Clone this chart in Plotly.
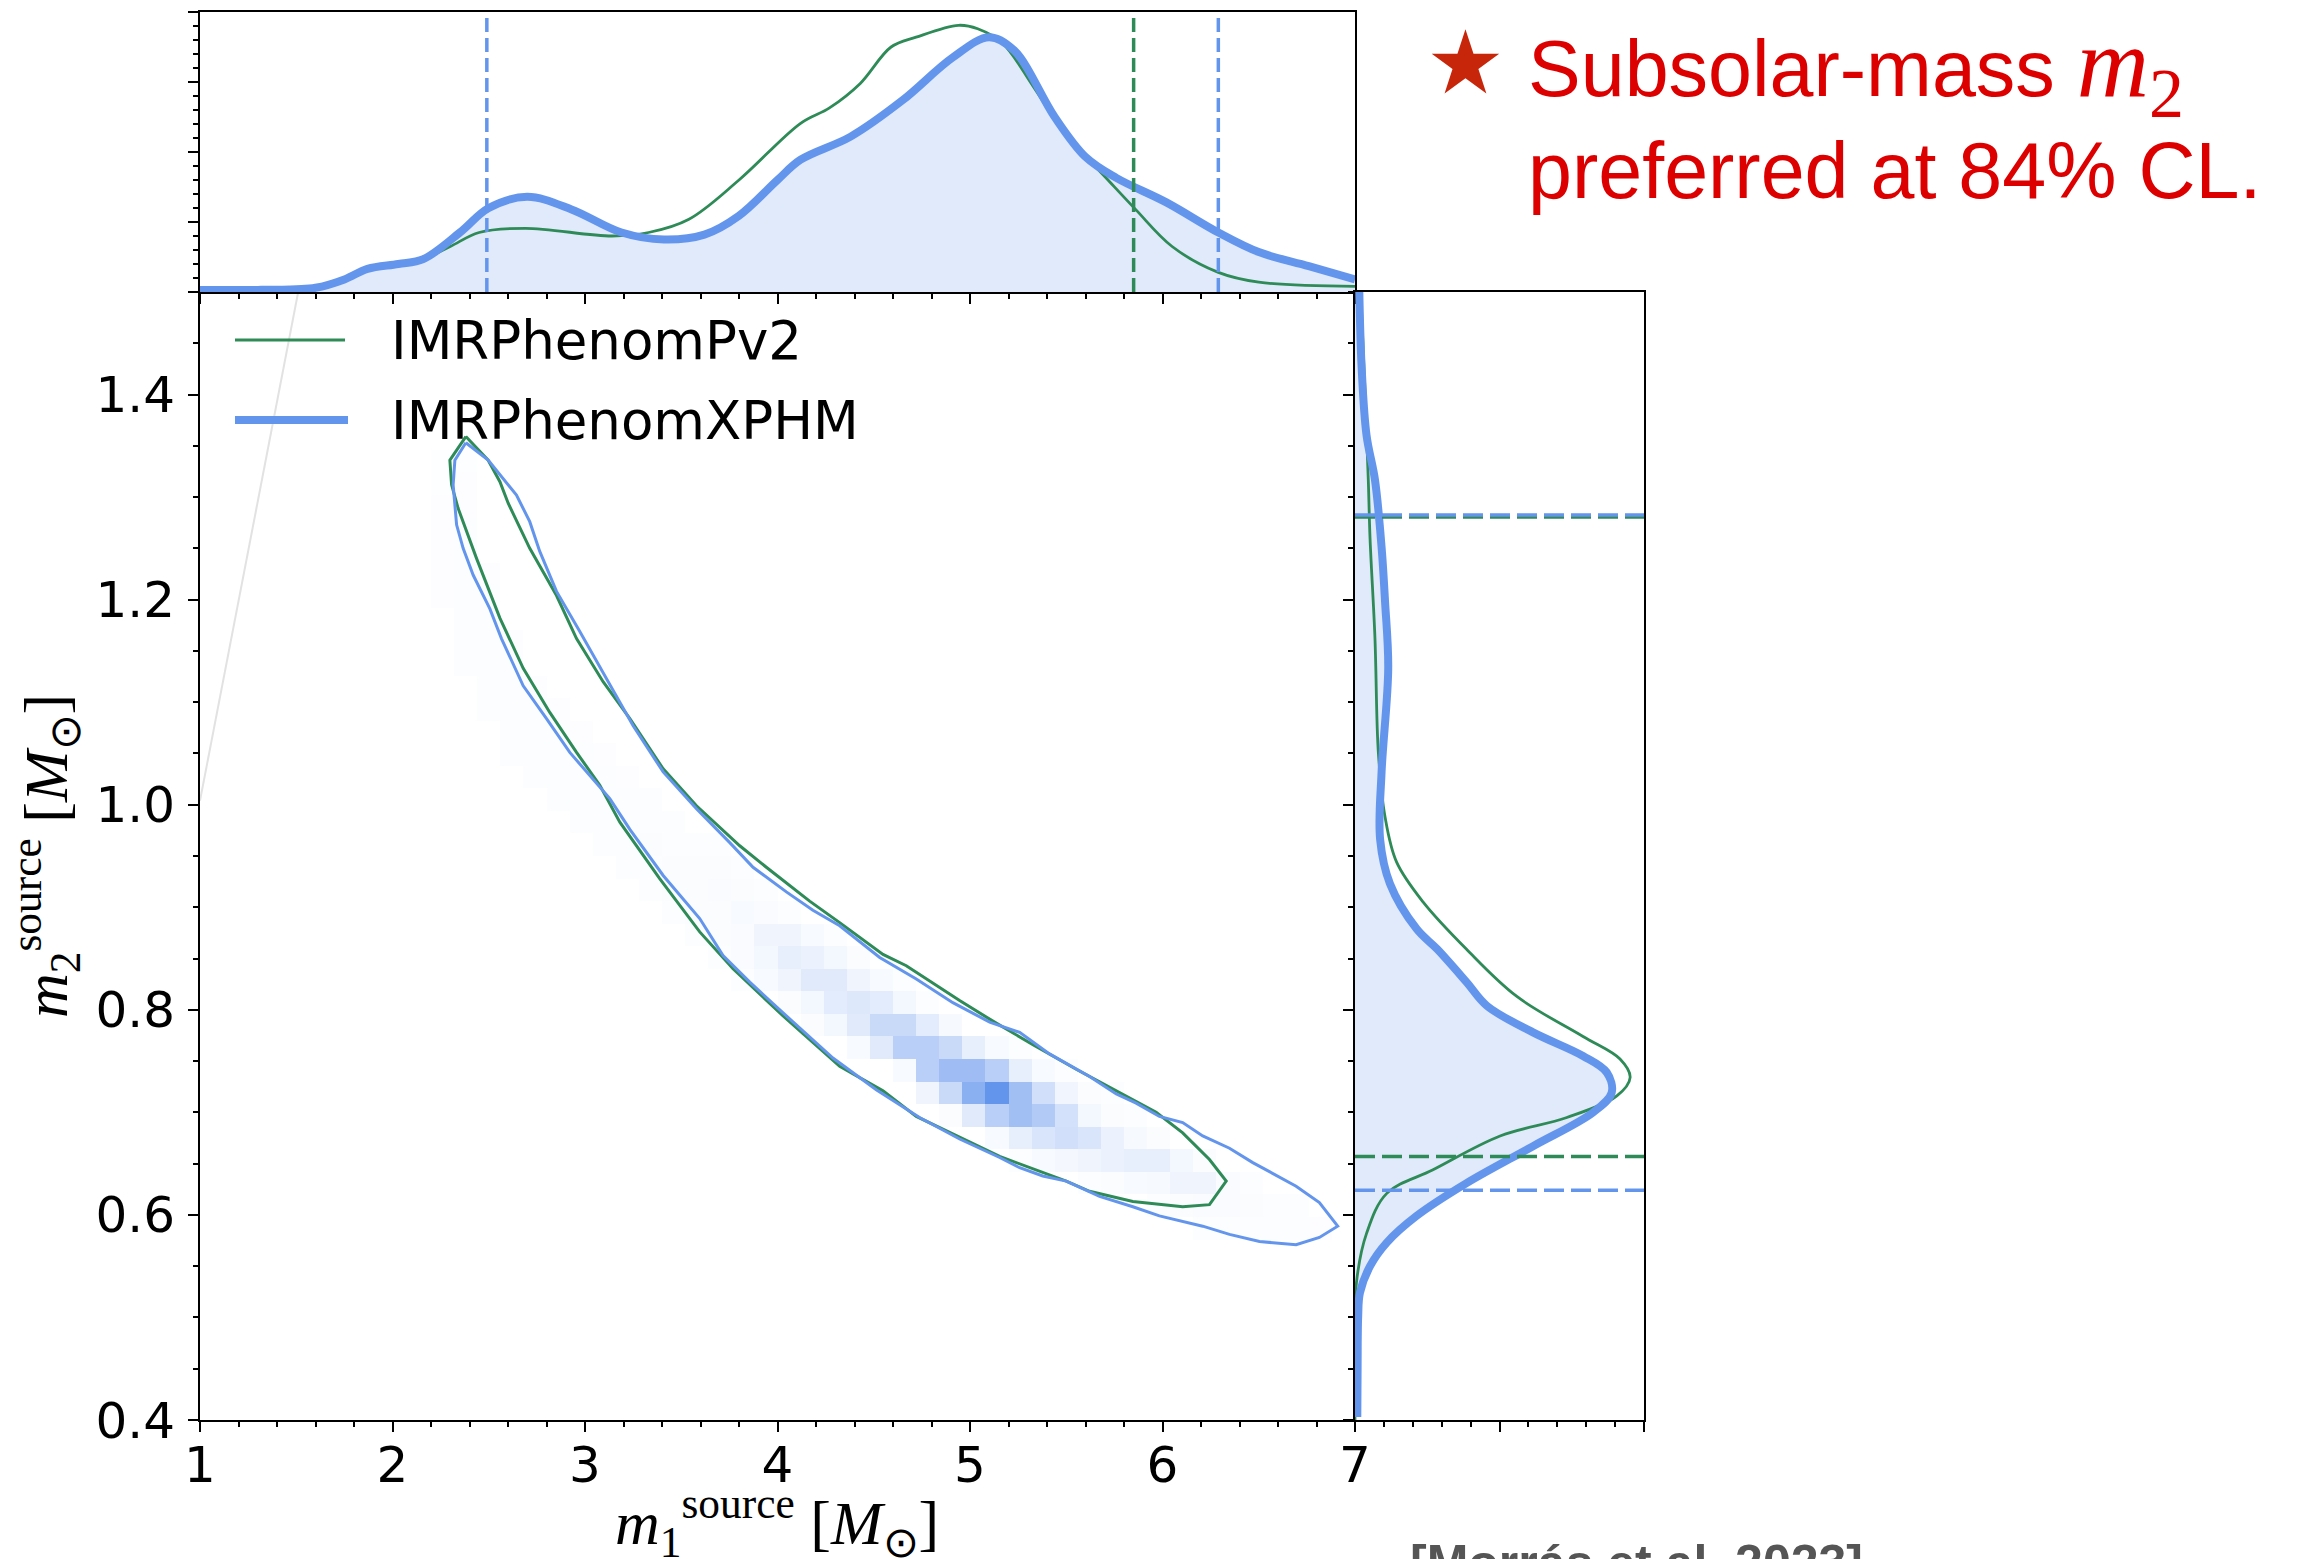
import plotly.graph_objects as go

W, H = 2300, 1559
def px(x): return x / W
def py(y): return 1 - y / H

GREEN = "#2E8B57"
BLUE = "#6495ED"
FILL = "rgba(100,149,237,0.2)"

# ---------------- data ----------------
# top marginal: m1 source-frame posterior density (arbitrary units, axis 0..4)
m1_blue_x = [1.0, 1.3, 1.5, 1.6, 1.75, 1.87, 2.03, 2.16, 2.35, 2.50, 2.70, 2.93, 3.19, 3.41,
             3.62, 3.80, 4.00, 4.12, 4.38, 4.65, 4.91, 5.10, 5.23, 5.44, 5.60, 5.76, 6.02,
             6.29, 6.50, 6.76, 7.0]
m1_blue_y = [0.03, 0.03, 0.04, 0.06, 0.18, 0.33, 0.40, 0.47, 0.85, 1.20, 1.36, 1.18, 0.85, 0.75,
             0.82, 1.09, 1.60, 1.89, 2.22, 2.74, 3.35, 3.64, 3.45, 2.50, 1.93, 1.63, 1.28,
             0.85, 0.57, 0.37, 0.18]
m1_green_x = [1.0, 1.5, 1.6, 1.75, 1.87, 2.03, 2.16, 2.30, 2.45, 2.69, 3.14, 3.33, 3.54, 3.80,
              4.12, 4.27, 4.43, 4.59, 4.72, 4.94, 5.04, 5.17, 5.33, 5.49, 5.70, 5.86, 6.05,
              6.29, 6.50, 7.0]
m1_green_y = [0.03, 0.04, 0.06, 0.20, 0.35, 0.42, 0.47, 0.65, 0.85, 0.91, 0.80, 0.85, 1.04, 1.60,
              2.41, 2.63, 2.98, 3.50, 3.64, 3.81, 3.76, 3.55, 2.93, 2.27, 1.65, 1.18, 0.65,
              0.28, 0.14, 0.08]
m1_q_blue = [2.49, 6.29]
m1_q_green = [5.85]

# right marginal: m2 source-frame posterior density (arbitrary units, axis 0..10)
m2_blue_m2 = [0.403, 0.45, 0.501, 0.524, 0.550, 0.573, 0.599, 0.631, 0.667, 0.700, 0.719, 0.739,
              0.755, 0.778, 0.804, 0.827, 0.859, 0.879, 0.923, 0.966, 1.032, 1.133, 1.198,
              1.251, 1.317, 1.36, 1.426, 1.50]
m2_blue_d = [0.08, 0.09, 0.11, 0.17, 0.52, 1.10, 2.13, 3.86, 6.16, 8.24, 8.88, 8.71,
             7.89, 6.16, 4.56, 3.86, 2.85, 2.13, 1.21, 0.87, 0.92, 1.15, 1.04,
             0.92, 0.69, 0.40, 0.23, 0.15]
m2_green_m2 = [0.40, 0.50, 0.534, 0.582, 0.621, 0.644, 0.677, 0.695, 0.716, 0.734, 0.752, 0.774,
               0.813, 0.859, 0.905, 0.944, 0.988, 1.05, 1.163, 1.26, 1.317, 1.40, 1.50]
m2_green_d = [0.0, 0.02, 0.05, 0.40, 1.10, 2.70, 5.02, 7.33, 9.06, 9.52, 9.17, 7.89,
              5.60, 3.86, 2.36, 1.44, 1.04, 0.81, 0.69, 0.52, 0.46, 0.35, 0.20]
m2_q_blue = [1.2825, 0.624]
m2_q_green = [1.2805, 0.657]

# 90% credible contours (m1, m2)
cont_blue_m1 = [2.381, 2.497, 2.644, 2.713, 2.765, 2.852, 2.973, 3.112, 3.250, 3.406, 3.579, 3.752,
                3.873, 4.046, 4.184, 4.323, 4.531, 4.721, 4.911, 5.102, 5.258, 5.413, 5.621,
                5.760, 5.863, 5.984, 6.105, 6.209, 6.348, 6.469, 6.694, 6.815, 6.910,
                6.815, 6.694, 6.504, 6.348, 6.209, 5.984, 5.846, 5.673, 5.500, 5.378, 5.258,
                5.154, 4.946, 4.738, 4.513, 4.288, 4.029, 3.856, 3.717, 3.596, 3.406, 3.233,
                3.129, 3.042, 2.921, 2.800, 2.679, 2.566, 2.506, 2.419, 2.367, 2.333, 2.315,
                2.324, 2.381]
cont_blue_m2 = [1.353, 1.336, 1.302, 1.276, 1.247, 1.208, 1.169, 1.123, 1.077, 1.032, 0.996, 0.963,
                0.939, 0.915, 0.897, 0.882, 0.851, 0.830, 0.807, 0.788, 0.778, 0.757, 0.735,
                0.718, 0.709, 0.696, 0.690, 0.677, 0.665, 0.651, 0.628, 0.612, 0.589,
                0.578, 0.571, 0.574, 0.581, 0.589, 0.599, 0.608, 0.618, 0.633, 0.638, 0.646,
                0.656, 0.674, 0.695, 0.722, 0.753, 0.797, 0.827, 0.853, 0.889, 0.931, 0.976,
                1.006, 1.025, 1.051, 1.084, 1.116, 1.162, 1.191, 1.224, 1.250, 1.273, 1.312,
                1.336, 1.353]
cont_green_m1 = [2.381, 2.497, 2.558, 2.601, 2.713, 2.852, 2.956, 3.094, 3.233, 3.406, 3.579, 3.804,
                 3.942, 4.167, 4.323, 4.548, 4.669, 4.946, 5.119, 5.327, 5.552, 5.760, 5.967,
                 6.105, 6.244, 6.331, 6.244, 6.105, 5.846, 5.621, 5.500, 5.154, 4.721, 4.548,
                 4.323, 4.029, 3.769, 3.596, 3.388, 3.181, 3.077, 2.956, 2.817, 2.679, 2.558,
                 2.437, 2.341, 2.307, 2.298, 2.381]
cont_green_m2 = [1.359, 1.336, 1.315, 1.294, 1.250, 1.204, 1.162, 1.120, 1.084, 1.035, 0.999, 0.960,
                 0.939, 0.906, 0.885, 0.854, 0.843, 0.809, 0.789, 0.766, 0.742, 0.721, 0.700,
                 0.680, 0.654, 0.633, 0.610, 0.608, 0.613, 0.623, 0.633, 0.657, 0.696, 0.721,
                 0.745, 0.794, 0.840, 0.876, 0.928, 0.983, 1.019, 1.051, 1.090, 1.133, 1.182,
                 1.240, 1.289, 1.312, 1.336, 1.359]

# 2D histogram (50 x 50 bins over m1 1..7, m2 0.4..1.5): (m2 bin j, first m1 bin k, values)
heat_rows = [
    (8, 43, [.02, .02, .02, .02, .02, .015]),
    (9, 41, [.02, .03, .04, .04, .03, .02, .02]),
    (10, 38, [.02, .03, .05, .06, .10, .10, .04, .02]),
    (11, 35, [.02, .05, .07, .10, .12, .15, .15, .08, .03]),
    (12, 34, [.05, .15, .25, .30, .25, .12, .06, .03]),
    (13, 32, [.03, .20, .45, .60, .50, .28, .08, .03, .02]),
    (14, 31, [.10, .35, .75, 1.0, .60, .30, .09, .03, .02]),
    (15, 30, [.05, .45, .62, .62, .45, .15, .05, .02]),
    (16, 28, [.05, .20, .45, .45, .35, .15, .05, .02]),
    (17, 26, [.03, .08, .20, .35, .35, .18, .06]),
    (18, 25, [.03, .08, .18, .22, .18, .08, .02]),
    (19, 23, [.02, .05, .10, .20, .20, .10, .05, .02]),
    (20, 22, [.02, .04, .08, .15, .12, .08, .03]),
    (21, 21, [.02, .03, .04, .10, .10, .05, .02]),
    (22, 20, [.02, .03, .03, .05, .04, .02]),
    (23, 19, [.02, .03, .03, .04, .03, .02]),
    (24, 18, [.02, .02, .03, .03, .03, .02]),
    (25, 17, [.02, .02, .03, .02, .02, .02]),
    (26, 16, [.02, .02, .02, .02, .02]),
    (27, 15, [.02, .02, .02, .02, .02]),
    (28, 14, [.02, .02, .02, .02, .015]),
    (29, 13, [.02, .02, .02, .02, .015]),
    (30, 13, [.02, .02, .02, .015]),
    (31, 12, [.02, .02, .02, .015]),
    (32, 12, [.02, .02, .015]),
    (33, 11, [.02, .02, .02]),
    (34, 11, [.02, .02, .015]),
    (35, 11, [.02, .02]),
    (36, 10, [.015, .02, .02]),
    (37, 10, [.015, .02, .015]),
    (38, 10, [.015, .02]),
    (39, 10, [.015, .02]),
    (40, 10, [.015, .015]),
    (41, 10, [.01, .015]),
    (42, 10, [.01, .01]),
]
n_bins = 50
m1_lo, m1_hi = 1.0, 7.0
m2_lo, m2_hi = 0.4, 1.5

artifact_m1 = [1.0, 1.51]
artifact_m2 = [1.004, 1.5]

labels = ["IMRPhenomPv2", "IMRPhenomXPHM"]

# ---------------- build figure ----------------
dx = (m1_hi - m1_lo) / n_bins
dy = (m2_hi - m2_lo) / n_bins
xc = [m1_lo + dx * (i + 0.5) for i in range(n_bins)]
yc = [m2_lo + dy * (j + 0.5) for j in range(n_bins)]
z = [[None] * n_bins for _ in range(n_bins)]
for j, k0, vals in heat_rows:
    for i, v in enumerate(vals):
        z[j][k0 + i] = v

LW_THIN = 2.8
LW_THICK = 8
LW_CONT = 3
LW_DASH = 3.5

fig = go.Figure()

fig.add_trace(go.Heatmap(x=xc, y=yc, z=z, zmin=0, zmax=1, showscale=False, connectgaps=False,
                         colorscale=[[0, "rgb(255,255,255)"], [1, "rgb(100,149,237)"]],
                         hoverinfo="skip", xaxis="x", yaxis="y"))
fig.add_trace(go.Scatter(x=artifact_m1, y=artifact_m2, mode="lines",
                         line=dict(color="#e2e2e2", width=2), xaxis="x", yaxis="y", hoverinfo="skip"))
fig.add_trace(go.Scatter(x=cont_green_m1, y=cont_green_m2, mode="lines",
                         line=dict(color=GREEN, width=LW_CONT), xaxis="x", yaxis="y", name=labels[0]))
fig.add_trace(go.Scatter(x=cont_blue_m1, y=cont_blue_m2, mode="lines",
                         line=dict(color=BLUE, width=LW_CONT), xaxis="x", yaxis="y", name=labels[1]))

# top marginal
fig.add_trace(go.Scatter(x=m1_blue_x, y=m1_blue_y, mode="lines", fill="tozeroy", fillcolor=FILL,
                         line=dict(color="rgba(0,0,0,0)", width=0, shape="spline", smoothing=1.0),
                         xaxis="x2", yaxis="y2", hoverinfo="skip"))
fig.add_trace(go.Scatter(x=m1_green_x, y=m1_green_y, mode="lines",
                         line=dict(color=GREEN, width=LW_THIN, shape="spline", smoothing=1.0),
                         xaxis="x2", yaxis="y2"))
fig.add_trace(go.Scatter(x=m1_blue_x, y=m1_blue_y, mode="lines",
                         line=dict(color=BLUE, width=LW_THICK, shape="spline", smoothing=1.0),
                         xaxis="x2", yaxis="y2"))
for q in m1_q_green:
    fig.add_trace(go.Scatter(x=[q, q], y=[0, 4], mode="lines", xaxis="x2", yaxis="y2",
                             line=dict(color=GREEN, width=LW_DASH, dash="14px,6px")))
for q in m1_q_blue:
    fig.add_trace(go.Scatter(x=[q, q], y=[0, 4], mode="lines", xaxis="x2", yaxis="y2",
                             line=dict(color=BLUE, width=LW_DASH, dash="14px,6px")))

# right marginal
fig.add_trace(go.Scatter(x=m2_blue_d, y=m2_blue_m2, mode="lines", fill="tozerox", fillcolor=FILL,
                         line=dict(color="rgba(0,0,0,0)", width=0, shape="spline", smoothing=1.0),
                         xaxis="x3", yaxis="y3", hoverinfo="skip"))
fig.add_trace(go.Scatter(x=m2_green_d, y=m2_green_m2, mode="lines",
                         line=dict(color=GREEN, width=LW_THIN, shape="spline", smoothing=1.0),
                         xaxis="x3", yaxis="y3"))
fig.add_trace(go.Scatter(x=m2_blue_d, y=m2_blue_m2, mode="lines",
                         line=dict(color=BLUE, width=LW_THICK, shape="spline", smoothing=1.0),
                         xaxis="x3", yaxis="y3"))
for q in m2_q_green:
    fig.add_trace(go.Scatter(x=[0, 10], y=[q, q], mode="lines", xaxis="x3", yaxis="y3",
                             line=dict(color=GREEN, width=LW_DASH, dash="20px,7px")))
for q in m2_q_blue:
    fig.add_trace(go.Scatter(x=[0, 10], y=[q, q], mode="lines", xaxis="x3", yaxis="y3",
                             line=dict(color=BLUE, width=LW_DASH, dash="20px,7px")))

TICKFONT = dict(family="DejaVu Sans", size=50, color="black")
common = dict(showgrid=False, zeroline=False, showline=True, linecolor="black", linewidth=2,
              ticks="outside", ticklen=10, tickwidth=2, tickcolor="black", automargin=False)
def minor(dt, t0):
    return dict(dtick=dt, tick0=t0, ticks="outside", ticklen=5, tickwidth=1.5,
                tickcolor="black", showgrid=False)

MX = [px(200), px(1355)]
RX = [px(1355), px(1644)]
MY = [py(1420), py(292)]
TY = [py(292), py(12)]

fig.update_layout(
    template="none",
    width=W, height=H, margin=dict(l=0, r=0, t=0, b=0, pad=0), autosize=False,
    paper_bgcolor="white", plot_bgcolor="white", showlegend=False,
    xaxis=dict(domain=MX, range=[m1_lo, m1_hi], anchor="y", tick0=1, dtick=1,
               minor=minor(0.2, 1), tickfont=TICKFONT, ticklabelstandoff=-10, **common),
    yaxis=dict(domain=MY, range=[m2_lo, m2_hi], anchor="x", tick0=0.4, dtick=0.2, tickformat=".1f",
               minor=minor(0.05, 0.4), tickfont=TICKFONT, ticklabelstandoff=3, **common),
    xaxis2=dict(domain=MX, range=[m1_lo, m1_hi], anchor="y2", tick0=1, dtick=1,
                minor=minor(0.2, 1), showticklabels=False, mirror=True, **common),
    yaxis2=dict(domain=TY, range=[0, 4], anchor="x2", tick0=0, dtick=1,
                minor=minor(0.2, 0), showticklabels=False, mirror=True, **common),
    xaxis3=dict(domain=RX, range=[0, 10], anchor="y3", tick0=0, dtick=5,
                minor=minor(1, 0), showticklabels=False, mirror=True, **common),
    yaxis3=dict(domain=MY, range=[m2_lo, m2_hi], anchor="x3", tick0=0.4, dtick=0.2,
                minor=minor(0.05, 0.4), showticklabels=False, mirror=True, **common),
)

# legend (drawn manually to match the long line samples)
fig.add_shape(type="line", xref="paper", yref="paper", x0=px(235), x1=px(345), y0=py(340), y1=py(340),
              line=dict(color=GREEN, width=LW_THIN))
fig.add_shape(type="line", xref="paper", yref="paper", x0=px(235), x1=px(348), y0=py(420), y1=py(420),
              line=dict(color=BLUE, width=LW_THICK))
for lab, yy in zip(labels, [340, 420]):
    fig.add_annotation(text=lab, xref="paper", yref="paper", x=px(389), y=py(yy),
                       xanchor="left", yanchor="middle", showarrow=False,
                       font=dict(family="DejaVu Sans", size=53, color="black"))

# axis titles
fig.add_annotation(text="<i>m</i><sub>1</sub><sup>source</sup> [<i>M</i><sub>⊙</sub>]",
                   xref="paper", yref="paper", x=px(777), y=py(1522), xanchor="center", yanchor="middle",
                   showarrow=False, font=dict(family="Liberation Serif", size=62, color="black"))
fig.add_annotation(text="<i>m</i><sub>2</sub><sup>source</sup> [<i>M</i><sub>⊙</sub>]",
                   xref="paper", yref="paper", x=px(45), y=py(856), xanchor="center", yanchor="middle",
                   textangle=-90, showarrow=False,
                   font=dict(family="Liberation Serif", size=62, color="black"))

# highlight text
RED = "#DD0000"
fig.add_annotation(text="★", xref="paper", yref="paper", x=px(1465), y=py(63), xanchor="center",
                   yanchor="middle", showarrow=False, font=dict(family="DejaVu Sans", size=88, color="#C8260A"))
fig.add_annotation(text="Subsolar-mass <span style='font-family:Liberation Serif;font-size:100px'><i>m</i><sub>2</sub></span>",
                   xref="paper", yref="paper", x=px(1526), y=py(70), xanchor="left", yanchor="middle",
                   showarrow=False, font=dict(family="Liberation Sans", size=79, color=RED))
fig.add_annotation(text="preferred at 84% CL.",
                   xref="paper", yref="paper", x=px(1526), y=py(170), xanchor="left", yanchor="middle",
                   showarrow=False, font=dict(family="Liberation Sans", size=79, color=RED))
fig.add_annotation(text="<b>[Morrás et al. 2023]</b>",
                   xref="paper", yref="paper", x=px(1408), y=py(1533), xanchor="left", yanchor="top",
                   showarrow=False, font=dict(family="Liberation Sans", size=50, color="#555555"))

fig.write_html("out.html")
